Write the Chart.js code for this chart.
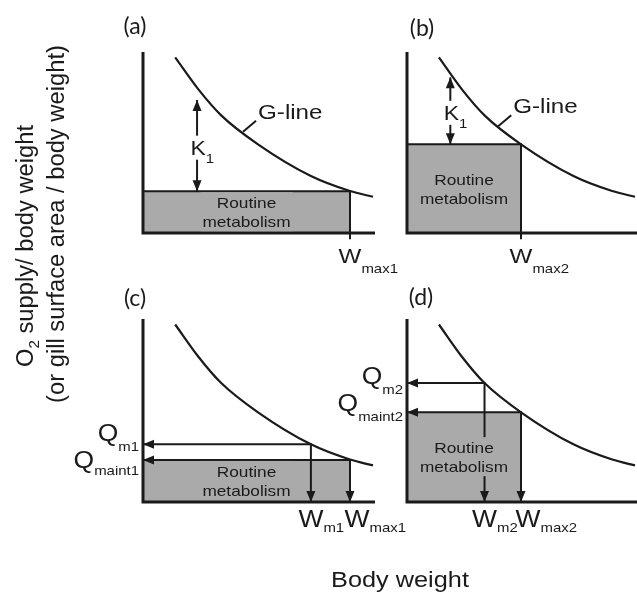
<!DOCTYPE html>
<html>
<head>
<meta charset="utf-8">
<script src="https://cdn.jsdelivr.net/npm/chart.js@4.4.1/dist/chart.umd.min.js"></script>
<style>
  body { margin: 0; background: #fff; }
  #wrap { position: relative; width: 637px; height: 598px; overflow: hidden;
          font-family: "Liberation Sans", Arial, sans-serif; color: #1a1a1a; }
  #wrap canvas { position: absolute; left: 0; top: 0; }
  .tag { position: absolute; font-family: Lato, "Open Sans", sans-serif; font-size: 23px;
         transform: translate(-50%, -50%); white-space: nowrap; }
  .ytitle { position: absolute; white-space: nowrap; font-size: 22px;
            transform: translate(-50%, -50%) rotate(-90deg) scale(1.08, 1.1); }
  .xtitle { position: absolute; white-space: nowrap; font-size: 22px;
            transform: translate(-50%, -50%) scale(1.15, 1); }
  .sub2 { font-size: 14px; position: relative; top: 6px; }
</style>
</head>
<body>
<div id="wrap">
  <canvas id="pa" width="637" height="598"></canvas>
  <canvas id="pb" width="637" height="598"></canvas>
  <canvas id="pc" width="637" height="598"></canvas>
  <canvas id="pd" width="637" height="598"></canvas>
  <div class="tag" style="left:135px;top:25px">(a)</div>
  <div class="tag" style="left:422px;top:27px">(b)</div>
  <div class="tag" style="left:135px;top:297px">(c)</div>
  <div class="tag" style="left:421px;top:296px">(d)</div>
  <div class="ytitle" style="left:25px;top:246px">O<span class="sub2">2</span> supply/ body weight</div>
  <div class="ytitle" style="left:56px;top:224px">(or gill surface area / body weight)</div>
  <div class="xtitle" style="left:400px;top:580px">Body weight</div>
</div>
<script>
// G-line (x = body weight, y = O2 supply, both 0-100)
const curveX = [14, 24, 34, 50, 73, 90, 100];
const curveY = [97, 79.5, 65, 49, 31.5, 23.2, 20];

// routine metabolism box per panel (a, b, c, d)
const wMax = [90, 50, 90, 50];
const qMaint = [23, 49, 23, 49];
const wMaxSub = ['max1', 'max2', 'max1', 'max2'];
const qMaintSub = ['maint1', 'maint2', 'maint1', 'maint2'];

// K1 arrows in (a) and (b)
const kX = [23.5, 19];
const kTop = [73.5, 86];

// G-line pointer in (a) and (b)
const gLeaderX = [43.5, 40];
const gLeaderY = [56, 59];

// Q_m / W_m in (c) and (d)
const wM = [73, 34];
const qM = [31.5, 65];
const wMSub = ['m1', 'm2'];
const qMSub = ['m1', 'm2'];

const INK = '#1a1a1a';
const GREY = '#aaaaaa';
const STRETCH = 1.15;
const FONT = '"Liberation Sans", Arial, sans-serif';

// plot areas of the four panels on the page: left, top, right, bottom
const areas = [
  [143, 52, 373, 233],
  [407, 52, 635, 233],
  [143, 319, 373, 502],
  [407, 319, 635, 502]
];

function setFont(ctx, size) {
  ctx.font = size + 'px ' + FONT;
}
function textW(ctx, s, size) {
  setFont(ctx, size);
  return ctx.measureText(s).width * STRETCH;
}
function txt(ctx, s, x, y, size, align) {
  ctx.save();
  setFont(ctx, size);
  ctx.textAlign = align || 'left';
  ctx.textBaseline = 'alphabetic';
  ctx.fillStyle = INK;
  ctx.translate(x, y);
  ctx.scale(STRETCH, 1);
  ctx.fillText(s, 0, 0);
  ctx.restore();
}
function head(ctx, p, q) {
  const a = Math.atan2(p.y - q.y, p.x - q.x);
  ctx.save();
  ctx.translate(p.x, p.y);
  ctx.rotate(a);
  ctx.beginPath();
  ctx.moveTo(0, 0);
  ctx.lineTo(-11, 4.5);
  ctx.lineTo(-11, -4.5);
  ctx.closePath();
  ctx.fillStyle = INK;
  ctx.fill();
  ctx.restore();
}

const deco = {
  id: 'deco',
  afterDatasetsDraw(chart, args, opts) {
    const i = opts.index;
    const ctx = chart.ctx;
    const X = v => chart.scales.x.getPixelForValue(v);
    const Y = v => chart.scales.y.getPixelForValue(v);
    const x0 = X(0), y0 = Y(0);

    // axes
    ctx.save();
    ctx.strokeStyle = INK;
    ctx.lineWidth = 3;
    ctx.lineJoin = 'miter';
    ctx.beginPath();
    ctx.moveTo(x0, Y(100));
    ctx.lineTo(x0, y0);
    ctx.lineTo(X(100) + 2, y0);
    ctx.stroke();
    ctx.restore();

    // arrow heads
    chart.data.datasets.forEach((ds, d) => {
      const pts = chart.getDatasetMeta(d).data;
      if (ds.arrowStart) head(ctx, pts[0], pts[1]);
      if (ds.arrowEnd) head(ctx, pts[pts.length - 1], pts[pts.length - 2]);
    });

    // routine metabolism text
    const cx = X(wMax[i] / 2), cy = Y(qMaint[i] / 2);
    const w = Math.max(textW(ctx, 'Routine', 15), textW(ctx, 'metabolism', 15));
    ctx.fillStyle = GREY;
    ctx.fillRect(cx - w / 2 - 2, cy - 20, w + 4, 39);
    txt(ctx, 'Routine', cx, cy - 4, 15, 'center');
    txt(ctx, 'metabolism', cx, cy + 15, 15, 'center');

    if (i < 2) {
      // G-line label
      const gx = X(gLeaderX[i]), gy = Y(gLeaderY[i]);
      ctx.save();
      ctx.strokeStyle = INK;
      ctx.lineWidth = 2;
      ctx.beginPath();
      ctx.moveTo(gx, gy);
      ctx.lineTo(gx + 13, gy - 11);
      ctx.stroke();
      ctx.restore();
      txt(ctx, 'G-line', gx + 15, gy - 13, 21, 'left');

      // K1 label over the arrow
      const kx = X(kX[i]) + 1;
      const kb = (Y(qMaint[i]) + Y(kTop[i])) / 2 + 9;
      const kw = textW(ctx, 'K', 20), sw = textW(ctx, '1', 13);
      ctx.fillStyle = '#fff';
      ctx.fillRect(kx - kw / 2 - 2, kb - 19, kw + sw + 4, 24);
      txt(ctx, 'K', kx - kw / 2, kb, 20, 'left');
      txt(ctx, '1', kx + kw / 2, kb + 8, 13, 'left');

      // W_max label
      const wx = X(wMax[i]);
      const ww = textW(ctx, 'W', 21);
      txt(ctx, 'W', wx - ww / 2, y0 + 30, 21, 'left');
      txt(ctx, wMaxSub[i], wx + ww / 2, y0 + 40, 13, 'left');
    } else {
      const m = i - 2;
      // W labels under the axis
      const ww = textW(ctx, 'W', 23);
      const wmx = X(wM[m]);
      txt(ctx, 'W', wmx - ww / 2, y0 + 25, 23, 'left');
      txt(ctx, wMSub[m], wmx + ww / 2, y0 + 30, 13, 'left');
      const wxx = X(wMax[i]) + 7;
      txt(ctx, 'W', wxx - ww / 2, y0 + 25, 23, 'left');
      txt(ctx, wMaxSub[i], wxx + ww / 2, y0 + 30, 13, 'left');

      // Q labels left of the axis
      const right = x0 - 4;
      const qw = textW(ctx, 'Q', 23);
      const qOff = m === 0 ? [[-3, 7], [8, 15]] : [[1, 11], [-1, 9]];
      const s1 = textW(ctx, qMSub[m], 13);
      txt(ctx, qMSub[m], right - s1, Y(qM[m]) + qOff[0][1], 13, 'left');
      txt(ctx, 'Q', right - s1 - qw, Y(qM[m]) + qOff[0][0], 23, 'left');
      const s2 = textW(ctx, qMaintSub[i], 13);
      txt(ctx, qMaintSub[i], right - s2, Y(qMaint[i]) + qOff[1][1], 13, 'left');
      txt(ctx, 'Q', right - s2 - qw, Y(qMaint[i]) + qOff[1][0], 23, 'left');
    }
  }
};

function pts(xs, ys) {
  return xs.map((x, j) => ({ x: x, y: ys[j] }));
}

function buildDatasets(i) {
  const ds = [];
  ds.push({
    data: pts(curveX, curveY),
    borderColor: INK, borderWidth: 2.2, pointRadius: 0,
    cubicInterpolationMode: 'monotone', fill: false, clip: false
  });
  if (i < 2) {
    ds.push({
      data: pts([kX[i], kX[i]], [qMaint[i], kTop[i]]),
      borderColor: INK, borderWidth: 2, pointRadius: 0, fill: false, clip: false,
      arrowStart: true, arrowEnd: true
    });
    ds.push({
      data: pts([0, wMax[i], wMax[i]], [qMaint[i], qMaint[i], -3.5]),
      borderColor: INK, borderWidth: 2, pointRadius: 0, clip: false,
      backgroundColor: GREY, fill: 'origin'
    });
  } else {
    const m = i - 2;
    ds.push({
      data: pts([0, wM[m], wM[m]], [qM[m], qM[m], 0]),
      borderColor: INK, borderWidth: 2, pointRadius: 0, fill: false, clip: false,
      arrowStart: true, arrowEnd: true
    });
    ds.push({
      data: pts([0, wMax[i], wMax[i]], [qMaint[i], qMaint[i], 0]),
      borderColor: INK, borderWidth: 2, pointRadius: 0, clip: false,
      backgroundColor: GREY, fill: 'origin',
      arrowStart: true, arrowEnd: true
    });
  }
  return ds;
}

['pa', 'pb', 'pc', 'pd'].forEach((id, i) => {
  const a = areas[i];
  new Chart(document.getElementById(id).getContext('2d'), {
    type: 'line',
    data: { datasets: buildDatasets(i) },
    options: {
      responsive: false,
      animation: false,
      events: [],
      layout: { padding: { left: a[0], top: a[1], right: 637 - a[2], bottom: 598 - a[3] } },
      scales: {
        x: { type: 'linear', min: 0, max: 100, display: false },
        y: { type: 'linear', min: 0, max: 100, display: false }
      },
      plugins: {
        legend: { display: false },
        tooltip: { enabled: false },
        deco: { index: i }
      }
    },
    plugins: [deco]
  });
});
</script>
</body>
</html>
